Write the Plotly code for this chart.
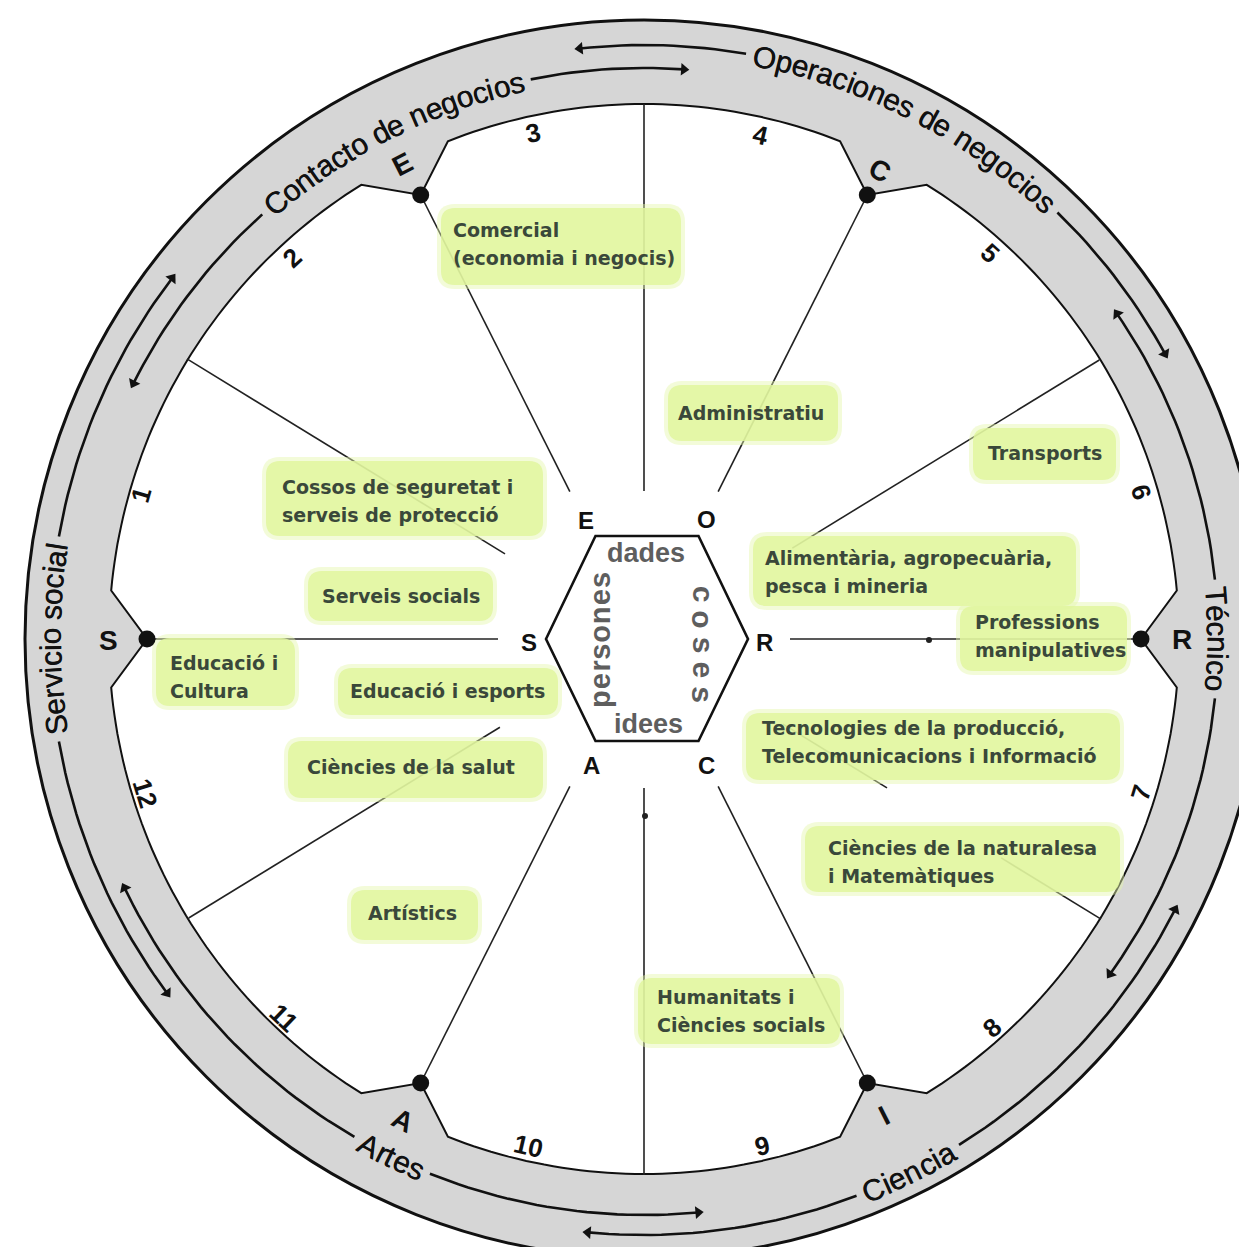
import math
import plotly.graph_objects as go

# ---------------- data ----------------
ring_labels = ["Contacto de negocios", "Operaciones de negocios", "Técnico",
               "Ciencia", "Artes", "Servicio social"]
sector_numbers = ["1", "2", "3", "4", "5", "6", "7", "8", "9", "10", "11", "12"]
notch_letters = ["R", "C", "E", "S", "A", "I"]
hex_letters = ["E", "O", "S", "R", "A", "C"]
core_words = ["dades", "idees", "persones", "coses"]
career_labels = [
    "Comercial\n(economia i negocis)",
    "Administratiu",
    "Transports",
    "Cossos de seguretat i\nserveis de protecció",
    "Alimentària, agropecuària,\npesca i mineria",
    "Serveis socials",
    "Professions\nmanipulatives",
    "Educació i\nCultura",
    "Educació i esports",
    "Tecnologies de la producció,\nTelecomunicacions i Informació",
    "Ciències de la salut",
    "Ciències de la naturalesa\ni Matemàtiques",
    "Artístics",
    "Humanitats i\nCiències socials",
]

# ---------------- geometry / layout ----------------
W = H = 1247
CX, CY = 636, 631
R_OUT, R_IN, R_DOT = 619, 535, 497
NOTCH = 5.2
VERTEX_ANG = [0, 63.3, 116.7, 180, 243.3, 296.7]

ring_center = [116.7, 63.0, 0.0, -63.6, -116.0, 180.0]
ring_radius = [571, 594, 574, 596, 576, 594]
ring_mode = ["cw", "cw", "cw", "ccw", "ccw", "cw"]
ring_ends = [(86, 153.4), (28.7, 96.2), (-35.7, 34.5), (-95.4, -27), (-154.4, -84.6), (142.6, 216.6)]

radial_segments = [(90, 148, 535), (63.3, 165, R_DOT), (116.7, 165, R_DOT), (0, 146, R_DOT),
                   (180, 146, R_DOT), (-63.3, 165, R_DOT), (-116.7, 165, R_DOT), (-90, 149, 536),
                   (148.5, 163, 536), (31.5, 174, 534), (-31.5, 163, 285), (-31.5, 419, 536),
                   (-148.5, 169, 534)]

number_pos = [(133, 487), (284, 250), (525, 125), (752, 127), (982, 245), (1133, 484),
              (1133, 785), (984, 1020), (754, 1138), (520, 1138), (276, 1010), (137, 785)]
notch_letter_pos = [(1174, 631), (872, 162), (394, 156), (100, 632), (395, 1112), (876, 1107)]
hex_letter_pos = [(578, 512), (698, 511), (521, 634), (756, 634), (583, 757), (698, 757)]

box_rects = [(433, 200, 673, 277), (660, 377, 830, 433), (965, 420, 1108, 472),
             (258, 453, 535, 528), (745, 528, 1068, 598), (300, 563, 485, 613),
             (952, 598, 1119, 663), (148, 630, 287, 698), (330, 660, 550, 707),
             (738, 705, 1112, 772), (280, 733, 535, 790), (797, 818, 1112, 884),
             (343, 882, 470, 932), (630, 970, 832, 1036)]
box_text_xy = [(443, 222), (668, 405), (978, 445), (272, 479), (755, 550), (312, 588),
               (965, 614), (160, 655), (340, 683), (752, 720), (297, 759), (818, 840),
               (358, 905), (647, 989)]
LINE_GAP = 28

SANS = "Liberation Sans, Arial, sans-serif"
BOXFONT = "DejaVu Sans, Verdana, sans-serif"

CW = {' ': .278, 'a': .556, 'b': .556, 'c': .5, 'd': .556, 'e': .556, 'f': .278, 'g': .556,
      'h': .556, 'i': .222, 'j': .222, 'k': .5, 'l': .222, 'm': .833, 'n': .556, 'o': .556,
      'p': .556, 'q': .556, 'r': .333, 's': .5, 't': .278, 'u': .556, 'v': .5, 'w': .722,
      'x': .5, 'y': .5, 'z': .5, 'é': .556, 'A': .667, 'C': .722, 'O': .778, 'S': .667, 'T': .611}
BW = {'p': .611, 'e': .556, 'r': .389, 's': .556, 'o': .611, 'n': .611, 'c': .556}


def pt(theta, r):
    t = math.radians(theta)
    return CX + r * math.cos(t), CY - r * math.sin(t)


def norm(a):
    while a > 180:
        a -= 360
    while a <= -180:
        a += 360
    return a


def tangent_angle(x, y):
    th = math.degrees(math.atan2(CY - y, x - CX))
    return 90 - th if th >= 0 else -(th + 90)


fig = go.Figure()
shapes = []
annotations = []

# outer grey disk
shapes.append(dict(type="circle", xref="x", yref="y", x0=CX - R_OUT, y0=CY - R_OUT,
                   x1=CX + R_OUT, y1=CY + R_OUT, fillcolor="#d6d6d6",
                   line=dict(color="#111", width=3), layer="below"))

# inner white notched region
pts = []
for k, phi in enumerate(VERTEX_ANG):
    nxt = VERTEX_ANG[(k + 1) % 6] + (360 if k == 5 else 0)
    pts.append(pt(phi, R_DOT))
    a, b = phi + NOTCH, nxt - NOTCH
    n = int(b - a) + 1
    for i in range(n + 1):
        pts.append(pt(a + (b - a) * i / n, R_IN))
path = "M" + " L".join(f"{x:.1f},{y:.1f}" for x, y in pts) + " Z"
shapes.append(dict(type="path", path=path, xref="x", yref="y", fillcolor="white",
                   line=dict(color="#111", width=2), layer="below"))

# radial lines
for ang, r0, r1 in radial_segments:
    x0, y0 = pt(ang, r0)
    x1, y1 = pt(ang, r1)
    shapes.append(dict(type="line", xref="x", yref="y", x0=x0, y0=y0, x1=x1, y1=y1,
                       line=dict(color="#222", width=1.6), layer="below"))


def rrect(x0, y0, x1, y1, r):
    return (f"M{x0 + r},{y0} L{x1 - r},{y0} Q{x1},{y0} {x1},{y0 + r} L{x1},{y1 - r} "
            f"Q{x1},{y1} {x1 - r},{y1} L{x0 + r},{y1} Q{x0},{y1} {x0},{y1 - r} "
            f"L{x0},{y0 + r} Q{x0},{y0} {x0 + r},{y0} Z")


# career boxes
for (x0, y0, x1, y1) in box_rects:
    shapes.append(dict(type="path", path=rrect(x0 - 4, y0 - 4, x1 + 4, y1 + 4, 18), xref="x", yref="y",
                       fillcolor="rgba(228,247,170,0.45)", line=dict(width=0), layer="below"))
    shapes.append(dict(type="path", path=rrect(x0, y0, x1, y1, 14), xref="x", yref="y",
                       fillcolor="rgba(224,246,158,0.85)", line=dict(width=0), layer="below"))

# hexagon
HX, HY = 639, 631
hex_pts = [(HX - 101, HY), (HX - 51.5, HY - 103), (HX + 51.5, HY - 103), (HX + 101, HY),
           (HX + 51.5, HY + 102), (HX - 51.5, HY + 102)]
shapes.append(dict(type="path", xref="x", yref="y",
                   path="M" + " L".join(f"{x},{y}" for x, y in hex_pts) + " Z",
                   line=dict(color="#111", width=2.6), fillcolor="rgba(0,0,0,0)", layer="below"))

# ring labels + arrow lines
arrow_x, arrow_y, arrow_a = [], [], []
for label, c, r, mode, (dec_end, inc_end) in zip(ring_labels, ring_center, ring_radius, ring_mode, ring_ends):
    size = 30
    ws = [CW.get(ch, .556) * size for ch in label]
    tot = sum(ws)
    s = 0
    for ch, w in zip(label, ws):
        mid = s + w / 2 - tot / 2
        s += w
        if ch == " ":
            continue
        d = math.degrees(mid / r)
        th = c - d if mode == "cw" else c + d
        x, y = pt(th, r)
        ang = 90 - th if mode == "cw" else -(th + 90)
        annotations.append(dict(x=x, y=y, xref="x", yref="y", text=ch, showarrow=False,
                                textangle=norm(ang),
                                font=dict(family=SANS, size=size, color="#111",
                                          shadow="0.35px 0.35px 0 #111")))
    half = math.degrees(tot / 2 / r) + 0.7
    for start, end in ((c - half, dec_end), (c + half, inc_end)):
        n = max(int(abs(end - start)), 2)
        xs, ys = [], []
        for i in range(n + 1):
            x, y = pt(start + (end - start) * i / n, r)
            xs.append(x)
            ys.append(y)
        fig.add_trace(go.Scatter(x=xs, y=ys, mode="lines", line=dict(color="#111", width=2.6),
                                 hoverinfo="skip"))
        dx, dy = xs[-1] - xs[-2], ys[-1] - ys[-2]
        arrow_x.append(xs[-1])
        arrow_y.append(ys[-1])
        arrow_a.append(math.degrees(math.atan2(dx, -dy)))

fig.add_trace(go.Scatter(x=arrow_x, y=arrow_y, mode="markers", hoverinfo="skip",
                         marker=dict(symbol="triangle-up", size=11, color="#111", angle=arrow_a)))

# vertex dots
dots = [pt(a, R_DOT) for a in VERTEX_ANG]
fig.add_trace(go.Scatter(x=[p[0] for p in dots], y=[p[1] for p in dots], mode="markers",
                         marker=dict(size=17, color="#111"), hoverinfo="skip"))
# small ticks
fig.add_trace(go.Scatter(x=[CX + 1, 921], y=[808, 632], mode="markers",
                         marker=dict(size=6, color="#222"), hoverinfo="skip"))

# sector numbers
for txt, (x, y) in zip(sector_numbers, number_pos):
    annotations.append(dict(x=x, y=y, xref="x", yref="y", text=txt, showarrow=False,
                            textangle=norm(tangent_angle(x, y)),
                            font=dict(family=SANS, size=26, color="#111", weight="bold")))

# notch letters
for txt, (x, y) in zip(notch_letters, notch_letter_pos):
    ang = 0 if abs(y - CY) < 30 else tangent_angle(x, y)
    annotations.append(dict(x=x, y=y, xref="x", yref="y", text=txt, showarrow=False,
                            textangle=norm(ang),
                            font=dict(family=SANS, size=28, color="#111", weight="bold")))

# hexagon letters
for txt, (x, y) in zip(hex_letters, hex_letter_pos):
    annotations.append(dict(x=x, y=y, xref="x", yref="y", text=txt, showarrow=False,
                            font=dict(family=SANS, size=24, color="#111", weight="bold")))

# core words
GREY = "#5e5e5e"
annotations.append(dict(x=638, y=545, xref="x", yref="y", text=core_words[0], showarrow=False,
                        font=dict(family=SANS, size=27, color=GREY, weight="bold")))
annotations.append(dict(x=640, y=716, xref="x", yref="y", text=core_words[1], showarrow=False,
                        font=dict(family=SANS, size=27, color=GREY, weight="bold")))


def vertical_word(word, xc, yc, size, spacing, downward):
    ws = [BW.get(ch, .556) * size for ch in word]
    tot = sum(ws) + spacing * (len(word) - 1)
    s = 0
    for ch, w in zip(word, ws):
        mid = s + w / 2 - tot / 2
        s += w + spacing
        y = yc + mid if downward else yc - mid
        annotations.append(dict(x=xc, y=y, xref="x", yref="y", text=ch, showarrow=False,
                                textangle=90 if downward else -90,
                                font=dict(family=SANS, size=size, color=GREY, weight="bold")))


vertical_word(core_words[2], 592, 632, 29, 1.0, False)
vertical_word(core_words[3], 695, 636, 30, 8, True)

# career text
for label, (x, y) in zip(career_labels, box_text_xy):
    for i, line in enumerate(label.split("\n")):
        annotations.append(dict(x=x, y=y + i * LINE_GAP, xref="x", yref="y", text=line,
                                showarrow=False, xanchor="left",
                                font=dict(family=BOXFONT, size=19, color="#3a483a", weight="bold")))

fig.update_layout(
    width=W, height=H, margin=dict(l=0, r=0, t=0, b=0),
    paper_bgcolor="white", plot_bgcolor="white", showlegend=False,
    xaxis=dict(range=[0, W], visible=False, fixedrange=True),
    yaxis=dict(range=[H, 0], visible=False, fixedrange=True),
    shapes=shapes, annotations=annotations,
)
fig.write_html("out.html")
